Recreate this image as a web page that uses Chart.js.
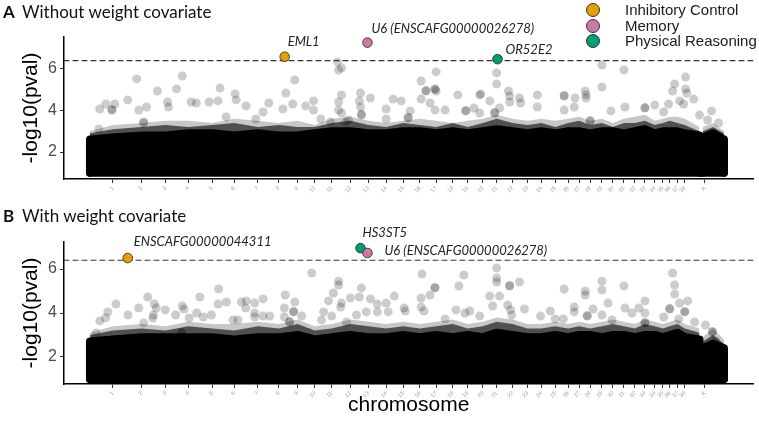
<!DOCTYPE html>
<html>
<head>
<meta charset="utf-8">
<script src="https://cdn.jsdelivr.net/npm/chart.js@4.4.1/dist/chart.umd.min.js"></script>
<style>
    html, body { margin: 0; padding: 0; background: #fff; }
    body { width: 759px; height: 426px; position: relative; overflow: hidden; font-family: 'Liberation Sans', Arial, sans-serif; }
    .panel { position: absolute; left: 0; width: 759px; }
    #panelA { top: 0; height: 205px; }
    #panelB { top: 205px; height: 221px; }
    .ptitle { position: absolute; left: 3px; font-family: Lato, sans-serif; font-size: 17px; line-height: 17px; color: #111; white-space: nowrap; }
    .ptitle b { display: inline-block; width: 19px; }
    .legend { position: absolute; left: 586px; top: 2px; font-size: 15px; color: #1a1a1a; }
    .legend .item { height: 15.5px; line-height: 15.5px; position: relative; padding-left: 39px; white-space: nowrap; }
    .legend .dot { position: absolute; left: 0; top: 1px; width: 12px; height: 12px; border-radius: 50%; border: 1px solid #333; }
</style>
</head>
<body>
<div class="panel" id="panelA"><canvas id="chartA"></canvas></div>
<div class="panel" id="panelB"><canvas id="chartB"></canvas></div>
<div class="ptitle" style="top:3px"><b>A</b>Without weight covariate</div>
<div class="ptitle" style="top:207px"><b>B</b>With weight covariate</div>
<div class="legend" id="legend"></div>

<script>
// Chromosomes and their midpoints on the cumulative genome axis (Mb)
const chromLabels = ['1', '2', '3', '4', '5', '6', '7', '8', '9', '10', '11', '12', '13', '14', '15', '16', '17', '18', '19',
    '20', '21', '22', '23', '24', '25', '26', '27', '28', '29', '30', '31', '32', '33', '34', '35', '36', '37', '38', 'X'];
const chromMid = [169, 269, 352, 431, 514, 590, 672, 745, 810, 869, 928, 993, 1055, 1117, 1176, 1234, 1290, 1348, 1400,
    1452, 1500, 1555, 1607, 1655, 1703, 1748, 1786, 1824, 1865, 1903, 1941, 1979, 2014, 2048, 2076, 2100, 2127, 2152, 2221];
const genomeMax = 2390;
const autosomeSpan = [90, 2203];
const chrXEnvX = [2214, 2250, 2288];
const yTicks = [2, 4, 6];
const pvalFloor = 1;
const threshold = 6.4;

const traits = ['Inhibitory Control', 'Memory', 'Physical Reasoning'];

// Panel A: without weight covariate
// envelope tops of the SNP cloud: [left edge, chr1..chr38, right edge]
const aCoreTop = [2.6, 2.7, 2.8, 2.8, 2.9, 2.9, 2.8, 2.9, 2.8, 2.8, 2.9, 3.0, 3.0, 2.9, 2.9, 3.0, 3.0, 2.9, 3.0, 2.9, 3.0,
    3.1, 3.0, 2.9, 3.0, 2.9, 3.0, 3.0, 2.9, 3.0, 3.0, 2.9, 3.0, 3.1, 2.9, 3.0, 3.0, 3.0, 2.9, 2.8];
const aInnerTop = [2.9, 3.1, 3.2, 3.3, 3.2, 3.3, 3.4, 3.2, 3.3, 3.2, 3.2, 3.4, 3.5, 3.3, 3.2, 3.4, 3.3, 3.2, 3.4, 3.2, 3.4,
    3.6, 3.4, 3.3, 3.4, 3.2, 3.4, 3.5, 3.3, 3.4, 3.2, 3.4, 3.4, 3.5, 3.3, 3.4, 3.5, 3.4, 3.3, 3.0];
const aFringeTop = [3.0, 3.3, 3.4, 3.5, 3.5, 3.4, 3.6, 3.5, 3.4, 3.5, 3.3, 3.6, 3.7, 3.5, 3.4, 3.5, 3.6, 3.5, 3.4, 3.5, 3.6,
    3.8, 3.6, 3.5, 3.6, 3.5, 3.6, 3.7, 3.5, 3.6, 3.4, 3.6, 3.7, 3.8, 3.5, 3.6, 3.7, 3.7, 3.6, 3.2];
const aXCoreTop = [2.7, 2.9, 2.6];
const aXInnerTop = [3.0, 3.2, 2.9];
const aXFringeTop = [3.2, 3.4, 3.0];
const aOutliers = [
    [252, 5.52], [410, 5.66], [324, 4.94], [390, 5.04], [541, 5.08], [593, 4.80], [800, 5.47], [769, 4.84], [221, 4.51],
    [145, 4.31], [124, 4.07], [176, 4.31], [166, 4.02], [166, 4.05], [286, 4.17], [259, 4.02], [359, 4.41], [362, 4.17],
    [441, 4.41], [459, 4.36], [503, 4.41], [534, 4.46], [597, 4.51], [631, 4.22], [710, 4.36], [562, 3.69], [690, 3.93],
    [759, 4.07], [793, 4.31], [121, 3.11], [276, 3.40], [276, 3.45], [665, 3.59], [976, 3.45],
    [948, 6.34], [952, 5.95], [962, 6.05], [1290, 5.86], [1238, 5.42], [1255, 4.94], [1255, 4.96], [1286, 5.04],
    [1286, 5.02], [1290, 4.94], [1500, 5.81], [1500, 5.28], [962, 4.75], [1028, 4.84], [1024, 4.46], [1062, 4.60],
    [1141, 4.55], [1169, 4.46], [1238, 4.55], [1269, 4.36], [1365, 4.75], [1445, 4.80], [1441, 4.75], [1476, 4.46],
    [1541, 4.94], [1545, 4.70], [1545, 4.41], [1579, 4.60], [1583, 4.36], [865, 4.46], [838, 4.22], [865, 4.02],
    [890, 3.59], [952, 4.41], [952, 4.02], [1028, 4.17], [1031, 3.78], [1031, 3.82], [1117, 4.07], [1200, 3.98],
    [1286, 4.02], [1321, 4.02], [1393, 3.98], [1393, 4.00], [1421, 4.12], [1441, 3.88], [1493, 3.88], [1493, 3.90],
    [1510, 4.12], [962, 3.88], [986, 3.54], [924, 3.45], [1193, 3.64], [1193, 3.66], [1117, 3.59],
    [1865, 6.19], [1941, 5.95], [1865, 5.13], [2155, 5.61], [2117, 5.28], [2110, 4.94], [2155, 5.04], [2159, 4.84],
    [2183, 4.55], [2134, 4.46], [2148, 4.31], [2096, 4.31], [1641, 4.75], [1734, 4.70], [1734, 4.72], [1772, 4.60],
    [1807, 4.94], [1810, 4.75], [1810, 4.60], [1734, 4.02], [1769, 4.17], [1641, 4.17], [1896, 3.98], [1945, 4.17],
    [2014, 4.12], [2014, 4.14], [2048, 4.26], [2079, 3.93], [2203, 3.78], [2245, 3.98], [1824, 3.49], [1824, 3.51],
    [2269, 3.40], [2231, 3.54]
];
const aHitGene = ['EML1', 'U6 (ENSCAFG00000026278)', 'OR52E2'];
const aHitX = [765, 1052, 1503];
const aHitY = [6.59, 7.27, 6.47];
const aHitTrait = [0, 1, 2];

// Panel B: with weight covariate
const bCoreTop = [2.7, 2.8, 2.9, 2.9, 2.9, 2.9, 2.8, 2.9, 2.9, 3.0, 2.8, 2.9, 3.0, 2.9, 2.9, 3.0, 2.9, 3.0, 2.9, 3.0, 2.9,
    3.1, 3.0, 2.9, 2.9, 3.0, 2.9, 3.0, 3.0, 2.9, 3.0, 3.0, 2.9, 3.0, 3.0, 2.9, 3.0, 3.1, 2.9, 2.8];
const bInnerTop = [3.0, 3.2, 3.3, 3.2, 3.4, 3.3, 3.2, 3.4, 3.3, 3.5, 3.2, 3.3, 3.5, 3.4, 3.3, 3.4, 3.3, 3.4, 3.5, 3.3, 3.4,
    3.6, 3.5, 3.3, 3.3, 3.4, 3.3, 3.4, 3.3, 3.4, 3.5, 3.4, 3.3, 3.5, 3.4, 3.3, 3.4, 3.5, 3.3, 3.1];
const bFringeTop = [3.1, 3.4, 3.5, 3.4, 3.6, 3.5, 3.5, 3.6, 3.5, 3.7, 3.4, 3.5, 3.7, 3.6, 3.5, 3.6, 3.5, 3.6, 3.7, 3.5, 3.6,
    3.8, 3.7, 3.5, 3.5, 3.6, 3.5, 3.6, 3.5, 3.6, 3.7, 3.6, 3.5, 3.7, 3.6, 3.5, 3.6, 3.7, 3.5, 3.3];
const bXCoreTop = [2.4, 2.6, 2.4];
const bXInnerTop = [2.7, 3.0, 2.6];
const bXFringeTop = [2.9, 3.3, 2.8];
const bOutliers = [
    [536, 5.09], [290, 4.73], [471, 4.73], [180, 4.41], [259, 4.23], [313, 4.41], [320, 4.23], [310, 3.91], [308, 3.77],
    [351, 4.14], [410, 4.32], [416, 4.18], [534, 4.41], [563, 4.50], [615, 4.50], [632, 4.55], [630, 4.23], [661, 4.45],
    [661, 4.00], [661, 3.82], [690, 4.64], [690, 3.86], [713, 3.86], [767, 4.82], [800, 4.50], [796, 4.05], [796, 4.07],
    [764, 4.23], [764, 3.82], [152, 4.05], [144, 3.77], [124, 3.64], [222, 3.91], [276, 3.55], [387, 3.91], [434, 3.77],
    [460, 4.00], [483, 3.82], [511, 3.91], [586, 3.68], [603, 3.68], [111, 3.09], [408, 3.09], [408, 3.11], [782, 3.59],
    [782, 3.61],
    [859, 5.82], [952, 5.45], [952, 5.27], [934, 4.91], [1031, 5.14], [993, 4.68], [962, 4.45], [959, 4.27], [917, 4.55],
    [1062, 4.64], [1024, 4.73], [1086, 4.41], [1086, 4.05], [1145, 4.77], [1117, 4.45], [1124, 4.05], [1179, 4.23],
    [1183, 4.09], [1241, 5.77], [1286, 5.14], [1286, 5.16], [1269, 4.82], [1238, 4.68], [1238, 4.27], [1248, 4.09],
    [1369, 5.23], [1386, 5.73], [1500, 6.05], [1500, 5.59], [1500, 5.41], [1545, 5.23], [1545, 5.25], [1579, 5.41],
    [1510, 4.77], [1476, 4.77], [1486, 4.32], [1538, 4.36], [1548, 4.14], [1552, 3.91], [1359, 4.14], [1390, 4.00],
    [1407, 4.09], [1441, 3.86], [824, 3.86], [900, 4.05], [928, 3.86], [893, 3.68], [1048, 4.05], [1014, 3.91],
    [979, 3.59], [1321, 3.73],
    [2110, 5.82], [2117, 5.27], [2117, 4.86], [2134, 4.45], [2162, 4.55], [2100, 4.18], [2100, 4.20], [2152, 4.05],
    [2152, 4.07], [2131, 3.73], [2186, 3.59], [2224, 3.45], [1865, 5.45], [1865, 5.05], [1941, 5.23], [1807, 5.00],
    [1807, 4.82], [1734, 5.09], [1886, 4.45], [1834, 4.18], [1814, 3.86], [1814, 3.88], [1769, 4.27], [1769, 4.05],
    [1865, 3.91], [1945, 4.23], [1969, 4.00], [1993, 4.23], [2014, 4.55], [2014, 4.00], [1686, 4.09], [1596, 4.18],
    [1652, 3.86], [1731, 3.73], [1703, 3.73], [1900, 3.68], [2079, 3.82], [2248, 3.14], [2248, 3.16], [2259, 2.73],
    [2014, 3.55], [2014, 3.57]
];
const bHitGene = ['ENSCAFG00000044311', 'HS3ST5', 'U6 (ENSCAFG00000026278)'];
const bHitX = [221, 1028, 1052];
const bHitY = [6.50, 6.95, 6.73];
const bHitTrait = [0, 2, 1];

// Styling
const traitColors = ['#E69F00', '#CC79A7', '#009E73'];
const FONT = "'Liberation Sans', Arial, sans-serif";

// Legend
const legendEl = document.getElementById('legend');
traits.forEach((t, i) => {
    const item = document.createElement('div');
    item.className = 'item';
    item.innerHTML = '<span class="dot" style="background:' + traitColors[i] + '"></span>' + t;
    legendEl.appendChild(item);
});

// Gene labels next to the significant points
const geneLabels = {
    id: 'geneLabels',
    afterDatasetsDraw(chart, args, opts) {
        const meta = chart.getDatasetMeta(opts.datasetIndex);
        const ctx = chart.ctx;
        ctx.save();
        ctx.font = 'italic 13px Lato, sans-serif';
        ctx.fillStyle = '#222';
        ctx.textBaseline = 'middle';
        ctx.textAlign = 'left';
        opts.texts.forEach((txt, i) => {
            const pt = meta.data[i];
            ctx.fillText(txt, pt.x + opts.offsets[i][0], pt.y + opts.offsets[i][1]);
        });
        ctx.restore();
    }
};

function band(xs, tops) {
    const pts = xs.map((x, i) => ({ x: x, y: tops[i] }));
    return [{ x: xs[0], y: pvalFloor }].concat(pts, [{ x: xs[xs.length - 1], y: pvalFloor }]);
}

function makePanel(canvasId, p) {
    const autoX = [autosomeSpan[0]].concat(chromMid.slice(0, 38), [autosomeSpan[1]]);
    const outer = 'rgba(0,0,0,0.22)';
    const inner = 'rgba(0,0,0,0.6)';
    const datasets = [
        // sparse halo of the SNP cloud
        { data: band(autoX, p.fringeTop), backgroundColor: outer, borderWidth: 0, fill: { value: pvalFloor }, order: 7 },
        { data: band(chrXEnvX, p.xFringeTop), backgroundColor: outer, borderWidth: 0, fill: { value: pvalFloor }, order: 7 },
        // semi-dense fringe
        { data: band(autoX, p.innerTop), backgroundColor: inner, borderWidth: 0, fill: { value: pvalFloor }, order: 6 },
        { data: band(chrXEnvX, p.xInnerTop), backgroundColor: inner, borderWidth: 0, fill: { value: pvalFloor }, order: 6 },
        // dense core
        { data: band(autoX, p.coreTop), backgroundColor: '#000', borderColor: '#000', borderWidth: 8, fill: { value: pvalFloor }, order: 5 },
        { data: band(chrXEnvX, p.xCoreTop), backgroundColor: '#000', borderColor: '#000', borderWidth: 8, fill: { value: pvalFloor }, order: 5 },
        { data: [{ x: autosomeSpan[0], y: pvalFloor }, { x: autosomeSpan[1], y: pvalFloor }], borderColor: '#000', borderWidth: 8, order: 5 },
        { data: [{ x: chrXEnvX[0], y: pvalFloor }, { x: chrXEnvX[2], y: pvalFloor }], borderColor: '#000', borderWidth: 8, order: 5 },
        // sparse SNPs
        {
            type: 'scatter', data: p.outliers.map(d => ({ x: d[0], y: d[1] })),
            backgroundColor: 'rgba(0,0,0,0.2)', borderWidth: 0, pointRadius: 4.5, order: 4
        },
        // genome-wide threshold
        {
            data: [{ x: 0, y: threshold }, { x: genomeMax, y: threshold }],
            borderColor: '#333', borderWidth: 1.1, borderDash: [5, 4], order: 3
        },
        // significant hits
        {
            type: 'scatter', data: p.hitX.map((x, i) => ({ x: x, y: p.hitY[i] })),
            backgroundColor: p.hitTrait.map(t => traitColors[t]), borderColor: '#222', borderWidth: 0.8,
            pointRadius: 4.8, order: 1
        }
    ];
    datasets.forEach(d => {
        if (!d.type) {
            d.type = 'line';
            d.pointRadius = 0;
            d.tension = 0;
            d.borderJoinStyle = 'round';
            d.borderCapStyle = 'round';
        }
    });

    return new Chart(document.getElementById(canvasId), {
        data: { datasets: datasets },
        plugins: [geneLabels],
        options: {
            responsive: true,
            maintainAspectRatio: false,
            animation: false,
            events: [],
            layout: { padding: { top: 37, right: 2, left: 0, bottom: 0 } },
            plugins: {
                legend: { display: false },
                tooltip: { enabled: false },
                geneLabels: { datasetIndex: datasets.length - 1, texts: p.hitGene, offsets: p.labelOffsets }
            },
            scales: {
                x: {
                    type: 'linear', min: 0, max: genomeMax,
                    afterBuildTicks: ax => { ax.ticks = chromMid.map(v => ({ value: v })); },
                    afterFit: s => { s.height = p.xHeight; },
                    grid: { drawOnChartArea: false, drawTicks: true, tickLength: 4, tickColor: '#333', tickWidth: 1 },
                    border: { color: '#000', width: 1.5 },
                    ticks: {
                        autoSkip: false, minRotation: 45, maxRotation: 45, padding: 2,
                        font: { family: FONT, size: 5.5 }, color: '#999',
                        callback: (v, i) => chromLabels[i]
                    },
                    title: {
                        display: p.showXTitle, text: 'chromosome', color: '#000',
                        font: { family: FONT, size: 21 }, padding: { top: 8, bottom: 8 }
                    }
                },
                y: {
                    type: 'linear', min: p.yMin, max: p.yMax,
                    afterBuildTicks: ax => { ax.ticks = yTicks.map(v => ({ value: v })); },
                    afterFit: s => { s.width = 64; },
                    grid: { drawOnChartArea: false, drawTicks: true, tickLength: 4, tickColor: '#333', tickWidth: 1 },
                    border: { color: '#000', width: 1.5 },
                    ticks: { font: { family: FONT, size: 16 }, color: '#4d4d4d', padding: 3 },
                    title: {
                        display: true, text: '-log10(pval)', color: '#000',
                        font: { family: FONT, size: 21 }, padding: { top: 19, bottom: 0 }
                    }
                }
            }
        }
    });
}

makePanel('chartA', {
    coreTop: aCoreTop, innerTop: aInnerTop, fringeTop: aFringeTop,
    xCoreTop: aXCoreTop, xInnerTop: aXInnerTop, xFringeTop: aXFringeTop,
    outliers: aOutliers, hitGene: aHitGene, hitX: aHitX, hitY: aHitY, hitTrait: aHitTrait,
    labelOffsets: [[3, -15], [4, -14], [8, -9]],
    yMin: 0.7, yMax: 7.54, xHeight: 26, showXTitle: false
});

makePanel('chartB', {
    coreTop: bCoreTop, innerTop: bInnerTop, fringeTop: bFringeTop,
    xCoreTop: bXCoreTop, xInnerTop: bXInnerTop, xFringeTop: bXFringeTop,
    outliers: bOutliers, hitGene: bHitGene, hitX: bHitX, hitY: bHitY, hitTrait: bHitTrait,
    labelOffsets: [[6, -16], [2, -15], [17, -2]],
    yMin: 0.77, yMax: 7.23, xHeight: 42, showXTitle: true
});
</script>
</body>
</html>
